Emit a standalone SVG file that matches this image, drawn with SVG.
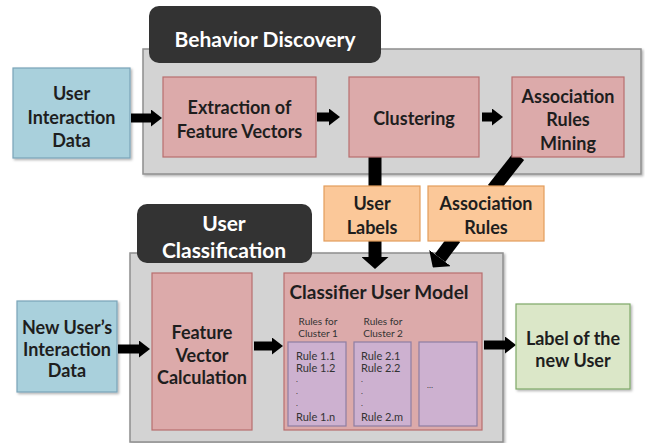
<svg xmlns="http://www.w3.org/2000/svg" width="645" height="443" viewBox="0 0 645 443">
<defs>
<filter id="sh" x="-10%" y="-10%" width="125%" height="125%"><feDropShadow dx="1.5" dy="1.5" stdDeviation="1.2" flood-color="#000" flood-opacity="0.3"/></filter>
<marker id="ah" markerUnits="userSpaceOnUse" viewBox="0 0 11 17" refX="0" refY="8.5" markerWidth="11" markerHeight="17" orient="auto"><path d="M0,0 L11,8.5 L0,17 z" fill="#000"/></marker>
<marker id="ahb" markerUnits="userSpaceOnUse" viewBox="0 0 12 27" refX="0" refY="13.5" markerWidth="12" markerHeight="27" orient="auto"><path d="M0,0 L12,13.5 L0,27 z" fill="#000"/></marker>
</defs>
<style>
text{font-family:Lato,"Liberation Sans",sans-serif;font-weight:bold;fill:#1e1e1e;text-anchor:middle;dominant-baseline:central}
.t{font-size:18px}
.w{fill:#fff;font-size:21px}
.s{font-size:10px;font-weight:normal;fill:#333}
.r{font-size:11px;font-weight:normal;fill:#333;text-anchor:start}
.d{font-size:8px;font-weight:normal;fill:#333;text-anchor:start}
.grp{fill:#d3d3d3;stroke:#8f8f8f;stroke-width:1.5}
.tab{fill:#333333}
.pk{fill:#dcaaaa;stroke:#b86e6e;stroke-width:1.2}
.bl{fill:#a9d0dc;stroke:#7aa4b8;stroke-width:1.2}
.or{fill:#fbc899;stroke:#e39d5c;stroke-width:1.2}
.gr{fill:#dbe7c8;stroke:#7ea868;stroke-width:1.2}
.pu{fill:#cdb1d0;stroke:#8e7ea2;stroke-width:1.2}
.c{stroke:#000;fill:none}
</style>

<g id="behavior-discovery">
<rect class="grp" x="143" y="49" width="498" height="125" filter="url(#sh)"/>
<rect class="tab" x="149" y="6" width="232" height="57" rx="10"/>
<text class="w" x="265" y="38">Behavior Discovery</text>
</g>

<g id="user-classification">
<rect class="grp" x="130" y="253" width="373" height="189" filter="url(#sh)"/>
<rect class="tab" x="137" y="204" width="175" height="59" rx="10"/>
<text class="w" x="224" y="222">User</text>
<text class="w" x="224" y="249">Classification</text>
</g>

<g id="connectors">
<line class="c" x1="131" y1="118" x2="151" y2="118" stroke-width="9" marker-end="url(#ah)"/>
<line class="c" x1="317" y1="117" x2="329" y2="117" stroke-width="9" marker-end="url(#ah)"/>
<line class="c" x1="482" y1="117" x2="492" y2="117" stroke-width="9" marker-end="url(#ah)"/>
<line class="c" x1="375" y1="155" x2="375" y2="188" stroke-width="13"/>
<line class="c" x1="375" y1="239" x2="375" y2="257" stroke-width="13" marker-end="url(#ahb)"/>
<line class="c" x1="519" y1="156" x2="493" y2="189" stroke-width="13"/>
<line class="c" x1="455" y1="238" x2="440" y2="258" stroke-width="13" marker-end="url(#ahb)"/>
<line class="c" x1="118" y1="349" x2="139" y2="349" stroke-width="9" marker-end="url(#ah)"/>
<line class="c" x1="254" y1="346" x2="272" y2="346" stroke-width="9" marker-end="url(#ah)"/>
<line class="c" x1="484" y1="345" x2="505" y2="345" stroke-width="9" marker-end="url(#ah)"/>
</g>

<g id="user-interaction-data">
<rect class="bl" x="13" y="68" width="117" height="90" filter="url(#sh)"/>
<text class="t" x="71.5" y="93">User</text>
<text class="t" x="71.5" y="117">Interaction</text>
<text class="t" x="71.5" y="140">Data</text>
</g>

<g id="extraction">
<rect class="pk" x="163" y="77" width="153" height="80"/>
<text class="t" x="239.5" y="107">Extraction of</text>
<text class="t" x="239.5" y="131">Feature Vectors</text>
</g>

<g id="clustering">
<rect class="pk" x="349" y="77" width="130" height="80"/>
<text class="t" x="414" y="118">Clustering</text>
</g>

<g id="association-rules-mining">
<rect class="pk" x="512" y="77" width="112" height="80"/>
<text class="t" x="568" y="96">Association</text>
<text class="t" x="568" y="119">Rules</text>
<text class="t" x="568" y="143">Mining</text>
</g>

<g id="user-labels">
<rect class="or" x="324" y="186" width="96" height="55"/>
<text class="t" x="372" y="203">User</text>
<text class="t" x="372" y="227">Labels</text>
</g>

<g id="association-rules">
<rect class="or" x="428" y="186" width="116" height="55"/>
<text class="t" x="486" y="203">Association</text>
<text class="t" x="486" y="227">Rules</text>
</g>

<g id="new-user-data">
<rect class="bl" x="17" y="301" width="100" height="91" filter="url(#sh)"/>
<text class="t" x="67" y="327">New User’s</text>
<text class="t" x="67" y="349">Interaction</text>
<text class="t" x="67" y="370">Data</text>
</g>

<g id="feature-vector-calculation">
<rect class="pk" x="152" y="273" width="100" height="157"/>
<text class="t" x="202" y="332">Feature</text>
<text class="t" x="202" y="355">Vector</text>
<text class="t" x="202" y="377">Calculation</text>
</g>

<g id="classifier-user-model">
<rect class="pk" x="284" y="273" width="198" height="157"/>
<text x="379" y="291" style="font-size:19px">Classifier User Model</text>
<text class="s" x="318" y="321">Rules for</text>
<text class="s" x="318" y="333">Cluster 1</text>
<text class="s" x="383" y="321">Rules for</text>
<text class="s" x="383" y="333">Cluster 2</text>
<rect class="pu" x="288" y="342" width="58" height="84"/>
<rect class="pu" x="354" y="342" width="57" height="84"/>
<rect class="pu" x="419" y="342" width="58" height="84"/>
<text class="r" x="296" y="355">Rule 1.1</text>
<text class="r" x="296" y="367">Rule 1.2</text>
<text class="d" x="296" y="379">.</text>
<text class="d" x="296" y="391">.</text>
<text class="d" x="296" y="403">.</text>
<text class="r" x="296" y="416">Rule 1.n</text>
<text class="r" x="361" y="355">Rule 2.1</text>
<text class="r" x="361" y="367">Rule 2.2</text>
<text class="d" x="361" y="379">.</text>
<text class="d" x="361" y="391">.</text>
<text class="d" x="361" y="403">.</text>
<text class="r" x="361" y="416">Rule 2.m</text>
<text class="d" x="427" y="385">…</text>
</g>

<g id="label-new-user">
<rect class="gr" x="516" y="304" width="114" height="85" filter="url(#sh)"/>
<text class="t" x="573" y="338">Label of the</text>
<text class="t" x="573" y="360">new User</text>
</g>
</svg>
